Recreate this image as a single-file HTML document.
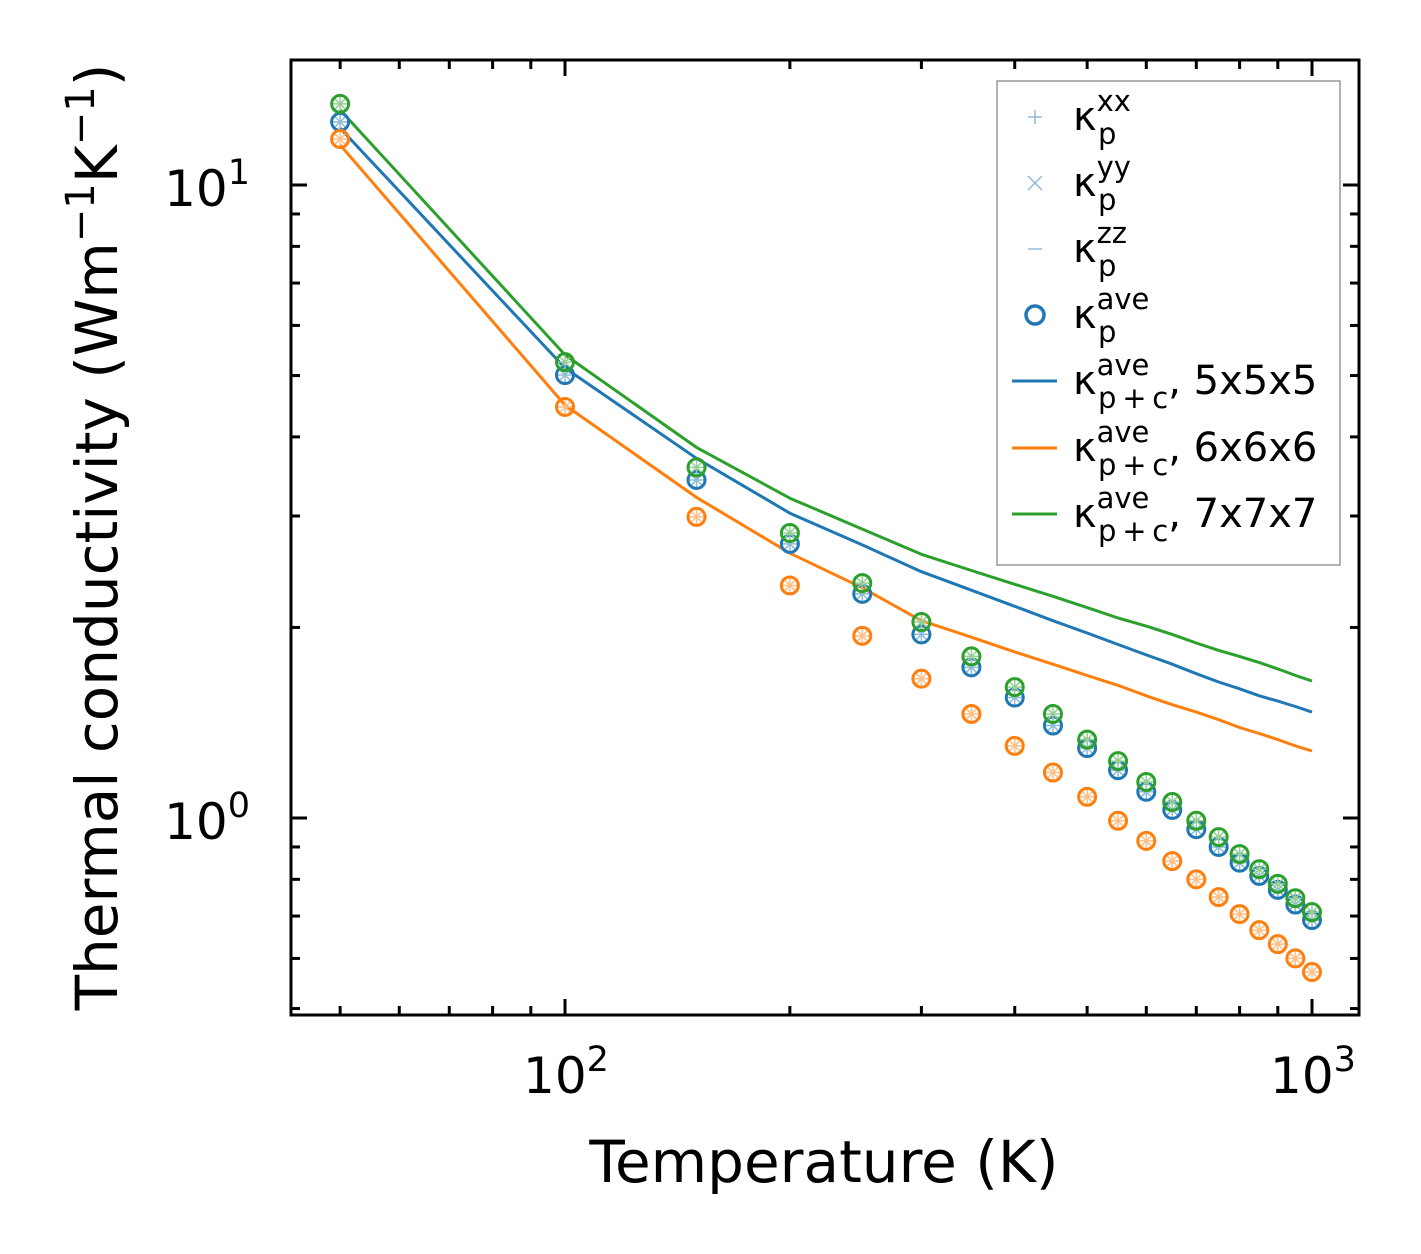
<!DOCTYPE html>
<html><head><meta charset="utf-8"><style>
html,body{margin:0;padding:0;background:#fff}
svg{display:block}
text{font-family:"DejaVu Sans","Liberation Sans",sans-serif;fill:#000}
</style></head><body>
<svg id="chart" width="1421" height="1254" viewBox="0 0 1421 1254" xmlns="http://www.w3.org/2000/svg">
<g id="series"></g>
<rect x="291" y="60" width="1068" height="955" fill="none" stroke="#000" stroke-width="3"/>
<g id="ticks"></g>
<text x="824" y="1182" font-size="58" text-anchor="middle">Temperature (K)</text>
<text transform="translate(117,537) rotate(-90)" font-size="58" text-anchor="middle">Thermal conductivity (Wm<tspan dy="-23" font-size="40">−1</tspan><tspan dy="23">K</tspan><tspan dy="-23" font-size="40">−1</tspan><tspan dy="23">)</tspan></text>
<g id="legend">
<rect x="997" y="81" width="343" height="484" fill="#fff" stroke="#999" stroke-width="1.5"/>
</g>
</svg>
<script>
const temps=[50,100,150,200,250,300,350,400,450,500,550,600,650,700,750,800,850,900,950,1000];
const blueP=[12.58,5.01,3.42,2.71,2.26,1.95,1.73,1.55,1.40,1.29,1.19,1.10,1.03,0.96,0.90,0.85,0.81,0.77,0.73,0.69];
const orangeP=[11.82,4.46,2.99,2.33,1.94,1.66,1.46,1.30,1.18,1.08,0.99,0.92,0.855,0.80,0.75,0.705,0.665,0.632,0.60,0.571];
const greenP=[13.43,5.25,3.58,2.82,2.35,2.04,1.80,1.61,1.46,1.33,1.23,1.14,1.06,0.99,0.933,0.877,0.83,0.787,0.747,0.71];
const blueL=[12.3,5.14,3.70,3.03,2.70,2.45,2.29,2.16,2.05,1.96,1.88,1.81,1.75,1.69,1.64,1.60,1.56,1.53,1.50,1.47];
const orangeL=[11.57,4.49,3.21,2.62,2.31,2.05,1.93,1.83,1.75,1.68,1.62,1.56,1.51,1.47,1.43,1.39,1.36,1.33,1.30,1.276];
const greenL=[13.14,5.39,3.85,3.20,2.86,2.61,2.46,2.34,2.24,2.15,2.07,2.01,1.95,1.89,1.84,1.80,1.76,1.72,1.68,1.646];
const xMajor=[100,1000];
const xMinor=[50,60,70,80,90,200,300,400,500,600,700,800,900];
const yMajor=[1,10];
const yMinor=[0.5,0.6,0.7,0.8,0.9,2,3,4,5,6,7,8,9];

const NS="http://www.w3.org/2000/svg";
const X0=291,X1=1359,Y0=60,Y1=1015;
function xs(t){return 565+747*Math.log10(t/100);}
function ys(v){return 818-633*Math.log10(v);}
function mk(tag,attrs,parent){const e=document.createElementNS(NS,tag);for(const k in attrs)e.setAttribute(k,attrs[k]);parent.appendChild(e);return e;}
const S=document.getElementById('series'),T=document.getElementById('ticks'),L=document.getElementById('legend');
const C={blue:'#1f77b4',orange:'#ff7f0e',green:'#2ca02c'};
const light={blue:'#8fbbd9',orange:'#ffbf86',green:'#95cf95'};

function line(vals,color,name){
  let d='';temps.forEach((t,i)=>{d+=(i?'L':'M')+xs(t).toFixed(1)+','+ys(vals[i]).toFixed(1);});
  const p=mk('path',{d:d,fill:'none',stroke:color,'stroke-width':3,'stroke-linejoin':'round'},S);
  
  
}
function points(vals,c,name){
  const g=mk('g',{},S);
  
  
  temps.forEach((t,i)=>{
    const x=xs(t),y=ys(vals[i]);
    mk('path',{d:`M${x-7},${y}H${x+7}M${x},${y-7}V${y+7}M${x-5},${y-5}L${x+5},${y+5}M${x-5},${y+5}L${x+5},${y-5}`,stroke:light[c],'stroke-width':1.5,fill:'none'},g);
    mk('circle',{cx:x,cy:y,r:8.5,fill:'none',stroke:C[c],'stroke-width':3},g);
  });
}
line(blueL,C.blue,'line-5x5x5');
line(orangeL,C.orange,'line-6x6x6');
line(greenL,C.green,'line-7x7x7');
points(blueP,'blue','points-5x5x5');
points(orangeP,'orange','points-6x6x6');
points(greenP,'green','points-7x7x7');

function tick(x1,y1,x2,y2){mk('line',{x1,y1,x2,y2,stroke:'#000','stroke-width':3},T);}
xMajor.forEach(t=>{const x=xs(t);tick(x,Y1,x,Y1-16);tick(x,Y0,x,Y0+16);
  const tx=mk('text',{x:x+1,y:1093,'font-size':50,'text-anchor':'middle'},T);
  
  
  tx.innerHTML='10<tspan dy="-22" font-size="35">'+Math.round(Math.log10(t))+'</tspan>';});
xMinor.forEach(t=>{const x=xs(t);tick(x,Y1,x,Y1-9);tick(x,Y0,x,Y0+9);});
yMajor.forEach(v=>{const y=ys(v);tick(X0,y,X0+16,y);tick(X1,y,X1-16,y);
  const tx=mk('text',{x:250,y:y+21,'font-size':50,'text-anchor':'end'},T);
  
  
  tx.innerHTML='10<tspan dy="-22" font-size="35">'+Math.round(Math.log10(v))+'</tspan>';});
yMinor.forEach(v=>{const y=ys(v);tick(X0,y,X0+9,y);tick(X1,y,X1-9,y);});

// legend
const entries=[
 {y:117,type:'plus',sup:'xx',sub:'p',extra:''},
 {y:183,type:'x',sup:'yy',sub:'p',extra:''},
 {y:249,type:'minus',sup:'zz',sub:'p',extra:''},
 {y:315,type:'circle',sup:'ave',sub:'p',extra:''},
 {y:381,type:'line',c:C.blue,sup:'ave',sub:'p + c',extra:', 5x5x5'},
 {y:448,type:'line',c:C.orange,sup:'ave',sub:'p + c',extra:', 6x6x6'},
 {y:514,type:'line',c:C.green,sup:'ave',sub:'p + c',extra:', 7x7x7'}];
entries.forEach((e,i)=>{
  const g=mk('g',{},L);
  
  
  const x=1035,y=e.y;
  if(e.type==='plus')mk('path',{d:`M${x-7},${y}H${x+7}M${x},${y-7}V${y+7}`,stroke:light.blue,'stroke-width':1.5},g);
  if(e.type==='x')mk('path',{d:`M${x-7},${y-7}L${x+7},${y+7}M${x-7},${y+7}L${x+7},${y-7}`,stroke:light.blue,'stroke-width':1.5},g);
  if(e.type==='minus')mk('path',{d:`M${x-7},${y}H${x+7}`,stroke:light.blue,'stroke-width':1.5},g);
  if(e.type==='circle')mk('circle',{cx:x,cy:y,r:9,fill:'none',stroke:C.blue,'stroke-width':3.5},g);
  if(e.type==='line')mk('line',{x1:1012,y1:y,x2:1057,y2:y,stroke:e.c,'stroke-width':3},g);
  const t=mk('text',{x:1073,y:y+13,'font-size':40},g);
  t.innerHTML='κ<tspan dy="-19" font-size="29">'+e.sup+'</tspan><tspan x="1098" dy="33" font-size="29">'+e.sub.replace(/ /g,'\u2009')+'</tspan>'+(e.extra?'<tspan dy="-14" font-size="40">'+e.extra+'</tspan>':'');
});
</script>
</body></html>
